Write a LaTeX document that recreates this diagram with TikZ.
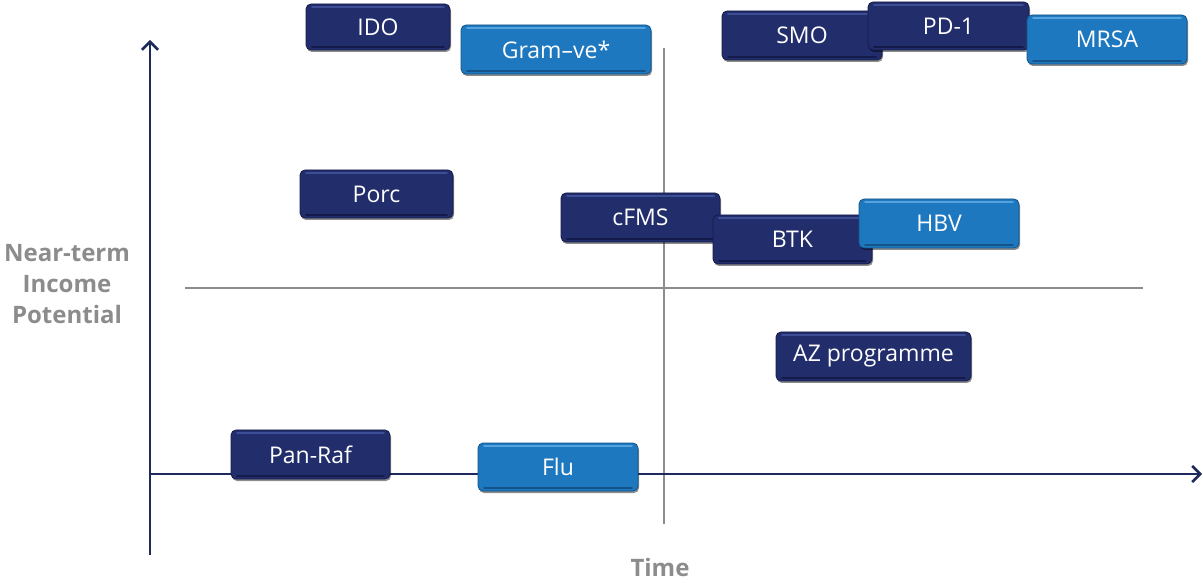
\documentclass[tikz,border=0pt]{standalone}
\usepackage{fontspec}
\setmainfont{Open Sans}
\usetikzlibrary{arrows.meta,shadows}
\definecolor{navy}{HTML}{222D6B}
\definecolor{navyedge}{HTML}{141B4A}
\definecolor{navyhl}{HTML}{3E4E96}
\definecolor{sky}{HTML}{1E78C0}
\definecolor{skyedge}{HTML}{15548A}
\definecolor{skyhl}{HTML}{55A3DE}
\definecolor{axis}{HTML}{1F2A5C}
\definecolor{midgray}{HTML}{8C8C8C}
\tikzset{
  boxbase/.style={rounded corners=5pt, inner sep=0pt, text=white,
    font=\fontsize{23}{26}\selectfont, line width=0.8pt,
    drop shadow={shadow xshift=1pt, shadow yshift=-2pt, opacity=0.45, fill=black}},
  dbox/.style={boxbase, fill=navy, draw=navyedge,
    path picture={
      \draw[navyhl, line width=1.6pt, line cap=round]
        ([xshift=6pt,yshift=-3pt]path picture bounding box.north west) --
        ([xshift=-6pt,yshift=-3pt]path picture bounding box.north east);
      \draw[navyedge, line width=1.6pt, line cap=round]
        ([xshift=6pt,yshift=3pt]path picture bounding box.south west) --
        ([xshift=-6pt,yshift=3pt]path picture bounding box.south east);}},
  lbox/.style={boxbase, fill=sky, draw=skyedge,
    path picture={
      \draw[skyhl, line width=1.6pt, line cap=round]
        ([xshift=6pt,yshift=-3pt]path picture bounding box.north west) --
        ([xshift=-6pt,yshift=-3pt]path picture bounding box.north east);
      \draw[skyedge, line width=1.6pt, line cap=round]
        ([xshift=6pt,yshift=3pt]path picture bounding box.south west) --
        ([xshift=-6pt,yshift=3pt]path picture bounding box.south east);}},
  axisline/.style={axis, line width=2.2pt, -{Straight Barb[length=8pt,width=16pt,line width=2.6pt]}},
  divider/.style={midgray, line width=1.6pt},
  lab/.style={midgray, font=\fontsize{24}{31}\selectfont\bfseries, align=center}
}
\begin{document}
\begin{tikzpicture}[x=1pt,y=-1pt]
\useasboundingbox (0,0) rectangle (1203,585);
% axes and dividers
\coordinate (vbot) at (150,555);
\coordinate (vtop) at (150,40);
\coordinate (hleft) at (150,474);
\coordinate (hright) at (1202,474);
\coordinate (dtop) at (664,48);
\coordinate (dbot) at (664,524);
\coordinate (mleft) at (185,288);
\coordinate (mright) at (1143,288);
\draw[divider] (dtop) -- (dbot);
\draw[divider] (mleft) -- (mright);
\draw[axisline] (vbot) -- (vtop);
\draw[axisline] (hleft) -- (hright);
% labels
\node[lab] (ylab) at (67,284) {Near-term\\Income\\Potential};
\node[lab] (xlab) at (660,567) {Time};
% boxes
\node[dbox, minimum width=144pt, minimum height=46pt] (ido) at (378,27) {IDO};
\node[lbox, minimum width=190pt, minimum height=49pt] (gram) at (556,49.5) {Gram–ve*};
\node[dbox, minimum width=160pt, minimum height=49pt] (smo) at (802,35.5) {SMO};
\node[dbox, minimum width=161pt, minimum height=48pt] (pd1) at (948.5,26) {PD-1};
\node[lbox, minimum width=160pt, minimum height=49pt] (mrsa) at (1107,39.5) {MRSA};
\node[dbox, minimum width=153pt, minimum height=48pt] (porc) at (376.5,194) {Porc};
\node[dbox, minimum width=159pt, minimum height=49pt] (cfms) at (640.5,217.5) {cFMS};
\node[dbox, minimum width=159pt, minimum height=49pt] (btk) at (792.5,239.5) {BTK};
\node[lbox, minimum width=160pt, minimum height=49pt] (hbv) at (939,223.5) {HBV};
\node[dbox, minimum width=195pt, minimum height=49pt] (az) at (873.5,356.5) {AZ programme};
\node[dbox, minimum width=159pt, minimum height=49pt] (panraf) at (310.5,454.5) {Pan-Raf};
\node[lbox, minimum width=160pt, minimum height=48pt] (flu) at (558,467) {Flu};
\end{tikzpicture}
\end{document}
